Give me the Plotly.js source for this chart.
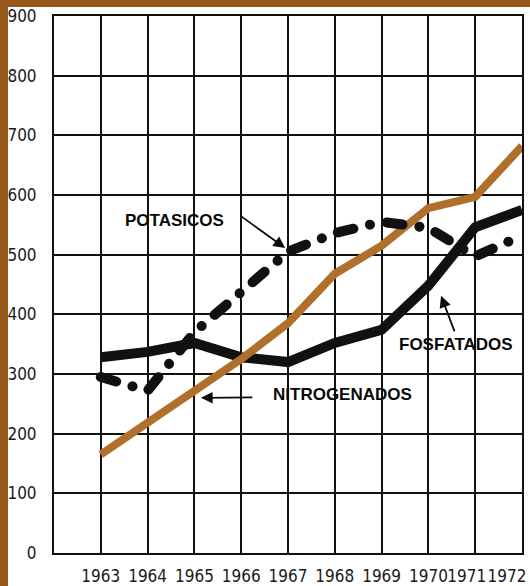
<!DOCTYPE html>
<html>
<head>
<meta charset="utf-8">
<script src="https://cdn.plot.ly/plotly-3.0.1.min.js"></script>
<style>
  html, body { margin: 0; padding: 0; background: #fff; }
  #wrap { position: relative; width: 530px; height: 586px; overflow: hidden; }
  #chart { position: absolute; left: 0; top: 0; width: 530px; height: 586px; }
  .strip { position: absolute; background: #97571a; }
  #leftStrip { left: 0; top: 0; width: 8px; height: 586px; }
  #topStrip { left: 0; top: 0; width: 530px; height: 7px; }
  .scatterlayer .trace:nth-child(3) .js-line { stroke-linecap: round; }
</style>
</head>
<body>
<div id="wrap">
  <div id="chart"></div>
  <div class="strip" id="leftStrip"></div>
  <div class="strip" id="topStrip"></div>
</div>
<script>
// ---- data ----
const years = [1963, 1964, 1965, 1966, 1967, 1968, 1969, 1970, 1971, 1972];
const yearLabels = ["1963", "1964", "1965", "1966", "1967", "1968", "1969", "1970", "1971", "1972"];
const fosfatados = [328, 337, 352, 328, 320, 352, 374, 448, 546, 575];
const nitrogenados = [165, 218, 272, 325, 385, 468, 515, 578, 597, 682];
const potasicos = [295, 272, 370, 438, 505, 536, 555, 545, 497, 532];
const yTicks = [0, 100, 200, 300, 400, 500, 600, 700, 800, 900];
// label positions for the bottom labels (the last two are squeezed left in the original)
const xLabelPos = [1963, 1964, 1965, 1966, 1967, 1968, 1969, 1970, 1970.82, 1971.68];

const narrow = '"Liberation Sans Narrow", "DejaVu Sans Condensed", "Arial Narrow", "Liberation Sans", sans-serif';
const sans = '"Liberation Sans", Arial, Helvetica, sans-serif';

const traces = [
  { x: years, y: fosfatados, type: 'scatter', mode: 'lines', name: 'FOSFATADOS',
    line: { color: '#111111', width: 10 } },
  { x: years, y: nitrogenados, type: 'scatter', mode: 'lines', name: 'NITROGENADOS',
    line: { color: '#b0702c', width: 8 } },
  { x: years, y: potasicos, type: 'scatter', mode: 'lines', name: 'POTASICOS',
    line: { color: '#111111', width: 10, dash: '16px,17px,0.1px,17px' } },
  // carrier (draws nothing) so the label axis is built
  { x: xLabelPos, y: potasicos, type: 'scatter', mode: 'none', xaxis: 'x2', yaxis: 'y',
    hoverinfo: 'skip', showlegend: false }
];

const lbl = (text, x, y) => ({ text, x, y, xref: 'x', yref: 'y', showarrow: false,
  font: { family: sans, size: 17, color: '#0a0a0a', weight: 'bold' }, xanchor: 'center', yanchor: 'middle' });
const arr = (ax, ay, x, y) => ({ text: '', x, y, ax, ay, xref: 'x', yref: 'y', axref: 'x', ayref: 'y',
  showarrow: true, arrowhead: 2, arrowsize: 1.3, arrowwidth: 1.8, arrowcolor: '#0a0a0a' });

const layout = {
  width: 530, height: 586,
  margin: { l: 54, r: 8, t: 16, b: 33, pad: 0 },
  paper_bgcolor: '#ffffff', plot_bgcolor: '#ffffff',
  showlegend: false,
  xaxis: {
    range: [1962, 1972], tickvals: years, showticklabels: false,
    showgrid: true, gridcolor: '#111111', gridwidth: 2,
    showline: true, linecolor: '#111111', linewidth: 2, mirror: true,
    zeroline: false, ticks: ''
  },
  xaxis2: {
    overlaying: 'x', anchor: 'y', side: 'bottom',
    range: [1962, 1972], tickvals: xLabelPos, ticktext: yearLabels,
    showgrid: false, showline: false, zeroline: false, ticks: '',
    tickangle: 0, ticklabelstandoff: 11, automargin: false,
    tickfont: { family: narrow, size: 17, color: '#1a1a1a' }
  },
  yaxis: {
    range: [0, 900], tickvals: yTicks, ticktext: yTicks.map(String),
    showgrid: true, gridcolor: '#111111', gridwidth: 2,
    showline: true, linecolor: '#111111', linewidth: 2, mirror: true,
    zeroline: false, ticks: '', ticklabelstandoff: 12,
    tickfont: { family: narrow, size: 17, color: '#1a1a1a' }
  },
  annotations: [
    lbl('POTASICOS', 1964.585, 558),
    lbl('NITROGENADOS', 1968.154, 265),
    lbl('FOSFATADOS', 1970.59, 349),
    arr(1965.97, 566, 1966.94, 511),
    arr(1966.27, 261, 1965.14, 260),
    arr(1970.57, 369, 1970.27, 431)
  ]
};

Plotly.newPlot('chart', traces, layout, { staticPlot: true, displayModeBar: false });
</script>
</body>
</html>
